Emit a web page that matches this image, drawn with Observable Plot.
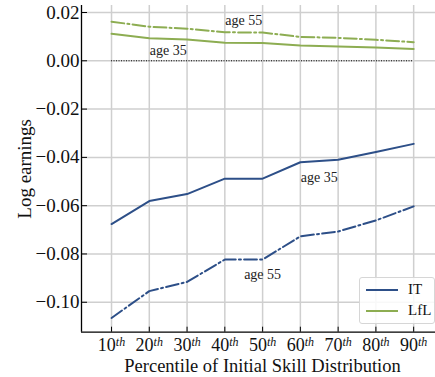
<!DOCTYPE html>
<html>
<head>
<meta charset="utf-8">
<script src="https://cdn.jsdelivr.net/npm/d3@7"></script>
<script src="https://cdn.jsdelivr.net/npm/@observablehq/plot@0.6"></script>
<style>
  html, body { margin: 0; padding: 0; background: #fff; }
  #wrap { position: relative; width: 435px; height: 377px; overflow: hidden; font-family: "Liberation Serif", "DejaVu Serif", serif; }
  #legend { position: absolute; left: 359px; top: 277px; width: 76px; height: 47px; box-sizing: border-box;
            border: 1px solid #d6d6d6; border-radius: 3px; background: rgba(255,255,255,0.85); }
  .row { position: absolute; left: 0; height: 16px; width: 100%; }
  .sw { position: absolute; left: 6px; top: 7px; width: 32px; height: 2px; }
  .lab { position: absolute; left: 48px; top: -1px; font-size: 15px; line-height: 16px; color: #111; }
</style>
</head>
<body>
<div id="wrap"></div>
<script>
// ---- data ----
const percentiles = [10, 20, 30, 40, 50, 60, 70, 80, 90];
const IT_age35  = [-0.0676, -0.0581, -0.0552, -0.0488, -0.0488, -0.0420, -0.0410, -0.0378, -0.0344];
const IT_age55  = [-0.1065, -0.0954, -0.0916, -0.0823, -0.0823, -0.0727, -0.0707, -0.0661, -0.0603];
const LfL_age35 = [0.0112, 0.0093, 0.0088, 0.0075, 0.0074, 0.0063, 0.0059, 0.0055, 0.0049];
const LfL_age55 = [0.0162, 0.0141, 0.0133, 0.0118, 0.0117, 0.0099, 0.0095, 0.0087, 0.0077];
const yTicks = [-0.10, -0.08, -0.06, -0.04, -0.02, 0.00, 0.02];
const seriesNames = ["IT", "LfL"];
const annLabels = ["age 55", "age 35", "age 35", "age 55"];
const annX = [45, 25, 65, 50];
const annY = [0.0148, 0.0025, -0.0504, -0.0902];
const xLabel = "Percentile of Initial Skill Distribution";
const yLabel = "Log earnings";

// ---- build table ----
const rows = [];
function add(model, age, vals) {
  vals.forEach((v, i) => rows.push({model, age, key: model + age, p: percentiles[i], v}));
}
add("IT", "35", IT_age35);
add("IT", "55", IT_age55);
add("LfL", "35", LfL_age35);
add("LfL", "55", LfL_age55);
const anns = annLabels.map((t, i) => ({t, x: annX[i], y: annY[i]}));

const colors = {IT: "#2d4f88", LfL: "#8dad52"};
const xDomain = [2.05, 97.9];
const yDomain = [-0.1124, 0.0229];
const font = '"Liberation Serif", "DejaVu Serif", serif';
const fmt = d => Math.abs(d) < 1e-9 ? "0.00" : (d < 0 ? "\u2212" : "") + Math.abs(d).toFixed(2);

const chart = Plot.plot({
  width: 435,
  height: 377,
  marginLeft: 81,
  marginRight: -8,
  marginTop: 5,
  marginBottom: 45.3,
  style: {fontFamily: font, fontSize: "19px", background: "#fff", color: "#111", overflow: "hidden"},
  x: {domain: xDomain},
  y: {domain: yDomain},
  marks: [
    Plot.gridX(percentiles, {stroke: "#cfcfcf", strokeOpacity: 1, strokeWidth: 1.5}),
    Plot.gridY(yTicks, {stroke: "#cfcfcf", strokeOpacity: 1, strokeWidth: 1.5}),
    Plot.ruleY([0], {x1: percentiles[0], x2: percentiles[percentiles.length - 1], stroke: "#000", strokeWidth: 1, strokeDasharray: "1,1.5"}),
    Plot.line(rows.filter(d => d.age === "35"), {x: "p", y: "v", z: "key", stroke: d => colors[d.model], strokeWidth: 2}),
    Plot.line(rows.filter(d => d.age === "55"), {x: "p", y: "v", z: "key", stroke: d => colors[d.model], strokeWidth: 2, strokeDasharray: "12.8,3.2,2,3.2"}),
    Plot.text(anns, {x: "x", y: "y", text: "t", fontSize: 14, textAnchor: "middle", lineAnchor: "bottom", fill: "#222"}),
    Plot.ruleX([xDomain[0]], {stroke: "#000", strokeWidth: 1.3}),
    Plot.ruleY([yDomain[0]], {stroke: "#000", strokeWidth: 1.3}),
    Plot.axisY(yTicks, {tickSize: -6, tickPadding: 8, tickFormat: fmt, label: null, stroke: "#000", fontSize: 19}),
    Plot.axisX(percentiles, {tickSize: -5, tickPadding: 11.5, tickFormat: d => String(d), label: null, stroke: "#000", fontSize: 18}),
    Plot.text([yLabel], {frameAnchor: "left", dx: -56.8, rotate: -90, textAnchor: "middle", lineAnchor: "middle", fontSize: 19}),
    Plot.text([xLabel], {frameAnchor: "bottom", dy: 34, textAnchor: "middle", lineAnchor: "middle", fontSize: 18.5})
  ]
});

// superscript "th" on x tick labels
d3.select(chart).selectAll('g[aria-label="x-axis tick label"] text').each(function () {
  d3.select(this).append("tspan")
    .attr("dy", "-0.45em")
    .attr("font-size", "12px")
    .attr("font-style", "italic")
    .text("th");
});

const wrap = document.getElementById("wrap");
wrap.appendChild(chart);

// legend
const legend = document.createElement("div");
legend.id = "legend";
seriesNames.forEach((name, i) => {
  const row = document.createElement("div");
  row.className = "row";
  row.style.top = (4 + i * 21.4) + "px";
  const sw = document.createElement("div");
  sw.className = "sw";
  sw.style.background = colors[name];
  const lab = document.createElement("div");
  lab.className = "lab";
  lab.textContent = name;
  row.appendChild(sw);
  row.appendChild(lab);
  legend.appendChild(row);
});
wrap.appendChild(legend);
</script>
</body>
</html>
